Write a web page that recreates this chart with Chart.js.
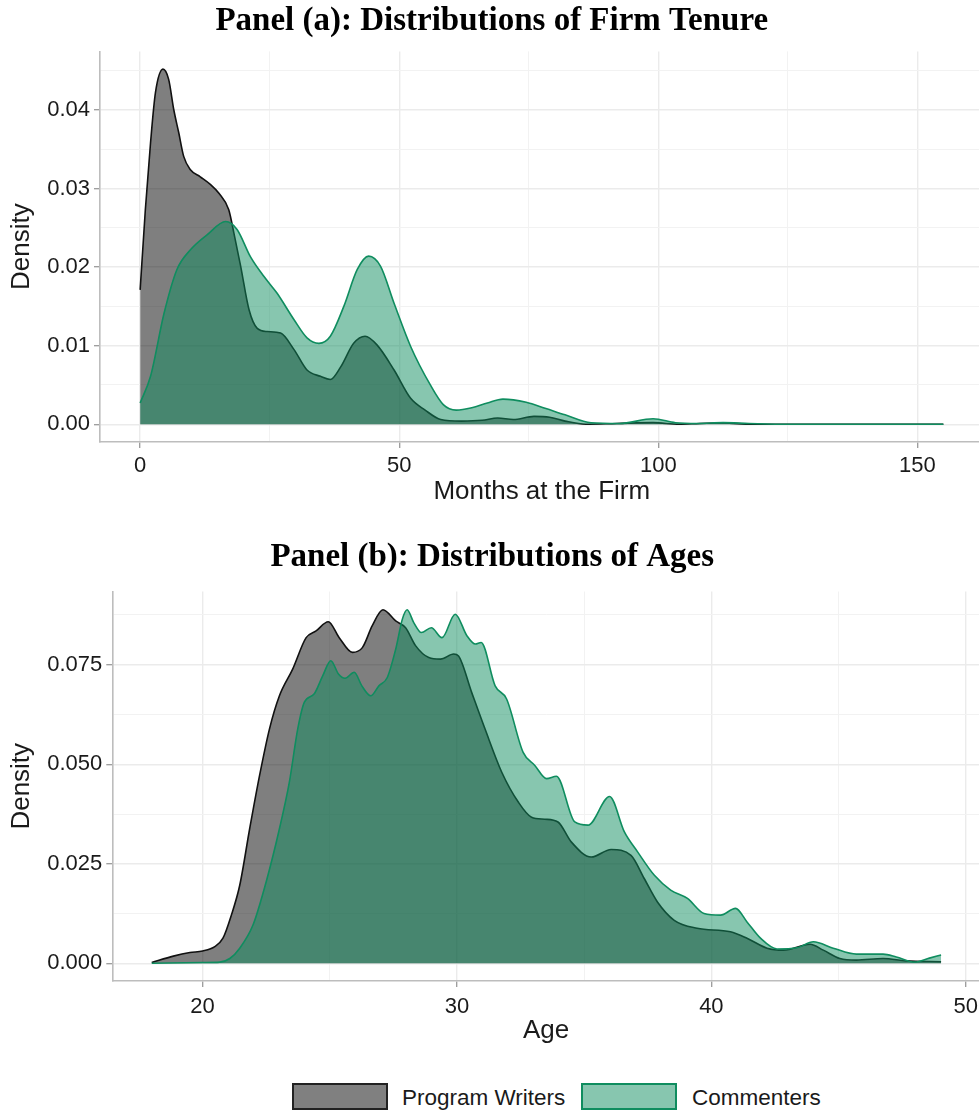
<!DOCTYPE html>
<html>
<head>
<meta charset="utf-8">
<script src="https://cdn.jsdelivr.net/npm/chart.js@4.4.1/dist/chart.umd.min.js"></script>
<style>
  html, body { margin:0; padding:0; background:#fff; width:979px; height:1113px; overflow:hidden; }
  #wrap { position:relative; width:979px; height:1113px; overflow:hidden; }
  canvas { position:absolute; left:0; }
  #ca { top:0; }
  #cb { top:530px; }
  #legend { position:absolute; top:1083px; left:0; width:979px; height:30px; font-family:"Liberation Sans", Arial, sans-serif; font-size:22.5px; color:#1a1a1a; }
  .box { position:absolute; top:0; width:96px; height:27px; box-sizing:border-box; border:2px solid; }
  .lbl { position:absolute; top:0; line-height:29px; }
</style>
</head>
<body>
<div id="wrap">
  <canvas id="ca" width="985" height="520"></canvas>
  <canvas id="cb" width="985" height="530"></canvas>
  <div id="legend">
    <div class="box" style="left:292px;background:#808080;border-color:#222;"></div>
    <div class="lbl" style="left:402px;">Program Writers</div>
    <div class="box" style="left:581px;background:rgba(15,141,95,0.5);border-color:#0f8d5f;"></div>
    <div class="lbl" style="left:692px;">Commenters</div>
  </div>
</div>
<script>
// ---------- Panel (a): Firm tenure (months) ----------
const tenureWritersX = [0, 1.0, 2.0, 2.95, 4.4, 5.5, 6.5, 7.45, 8.4, 9.7, 11.6, 13.6, 15.2, 17.1, 18.1, 19.4, 21.0, 22.6, 24.5, 27.1, 29.7, 32.2, 34.8, 36.7, 38.7, 41.2, 43.4, 45.7, 49.0, 52.2, 55.0, 58.0, 62.0, 66.0, 69.0, 72.0, 76.0, 79.0, 82.0, 86.0, 92.0, 99.0, 104.0, 108.0, 112.5, 118.0, 125.0, 140.0, 155.0];
const tenureWritersY = [0.0171, 0.0273, 0.0358, 0.0422, 0.0452, 0.0439, 0.0400, 0.0371, 0.0341, 0.0324, 0.0315, 0.0305, 0.0294, 0.0273, 0.0243, 0.0201, 0.0146, 0.0122, 0.0118, 0.0116, 0.0095, 0.0069, 0.0061, 0.0057, 0.0073, 0.0103, 0.0112, 0.0101, 0.0069, 0.0033, 0.0018, 0.0006, 0.0004, 0.0005, 0.0008, 0.0006, 0.0010, 0.0009, 0.0004, 0.0000, 0.0001, 0.0002, 0.0000, 0.0001, 0.00015, 0.0000, 0.0000, 0.0000, 0.0000];
const tenureCommentersX = [0, 2.0, 4.6, 7.1, 9.7, 12.9, 16.5, 18.7, 21.3, 23.9, 26.4, 29.7, 32.2, 34.5, 36.7, 39.3, 41.9, 44.1, 46.4, 49.0, 52.2, 56.0, 58.5, 61.0, 64.0, 67.0, 70.0, 74.5, 78.3, 82.0, 87.0, 92.5, 99.0, 103.3, 107.6, 112.5, 117.5, 125.0, 140.0, 155.0];
const tenureCommentersY = [0.0027, 0.0061, 0.0141, 0.0197, 0.0222, 0.0241, 0.0258, 0.0248, 0.0213, 0.0188, 0.0167, 0.0133, 0.0110, 0.0103, 0.0112, 0.0150, 0.0197, 0.0214, 0.0201, 0.0154, 0.0099, 0.0050, 0.0025, 0.0018, 0.0021, 0.0027, 0.0032, 0.0028, 0.0020, 0.0012, 0.0002, 0.0001, 0.0007, 0.0002, 0.0001, 0.0002, 0.0001, 0.0000, 0.0000, 0.0000];
const tenureTicks = [0, 50, 100, 150];
const tenureDensityTicks = [0, 0.01, 0.02, 0.03, 0.04];
const tenureDensityLabels = ["0.00", "0.01", "0.02", "0.03", "0.04"];

// ---------- Panel (b): Ages ----------
const ageWritersX = [18.0, 18.85, 19.5, 20.0, 20.48, 20.8, 21.13, 21.46, 21.85, 22.24, 22.63, 23.02, 23.54, 24.07, 24.46, 24.94, 25.37, 25.89, 26.28, 26.67, 27.09, 27.59, 27.98, 28.37, 28.89, 29.35, 29.87, 30.06, 30.58, 31.1, 31.76, 32.41, 32.93, 33.45, 33.97, 34.49, 35.28, 36.06, 36.84, 37.36, 37.88, 38.54, 39.44, 40.75, 41.4, 42.19, 42.84, 43.88, 44.4, 45.05, 45.7, 46.75, 47.66, 49.03];
const ageWritersY = [0.0002, 0.0018, 0.0027, 0.0031, 0.0042, 0.0063, 0.0121, 0.0196, 0.0338, 0.0472, 0.0589, 0.0672, 0.0739, 0.0818, 0.0835, 0.0858, 0.0818, 0.0781, 0.0793, 0.0848, 0.0888, 0.0860, 0.0843, 0.0798, 0.0768, 0.0764, 0.0777, 0.0772, 0.0680, 0.0589, 0.0480, 0.0405, 0.0367, 0.0362, 0.0355, 0.0305, 0.0267, 0.0286, 0.0271, 0.0213, 0.0154, 0.0108, 0.0088, 0.0079, 0.0063, 0.0038, 0.0033, 0.0048, 0.0033, 0.0012, 0.0008, 0.0012, 0.0006, 0.0004];
const ageCommentersX = [18.0, 20.0, 20.68, 21.07, 21.46, 21.98, 22.5, 23.02, 23.41, 23.74, 24.0, 24.39, 24.72, 25.04, 25.34, 25.6, 25.96, 26.26, 26.61, 26.93, 27.26, 27.59, 27.85, 28.04, 28.3, 28.6, 28.99, 29.41, 29.93, 30.39, 30.72, 30.95, 31.5, 31.95, 32.6, 33.06, 33.52, 33.91, 34.63, 35.15, 36.0, 36.58, 37.1, 37.76, 38.4, 39.06, 39.71, 40.36, 40.95, 41.4, 41.93, 42.58, 43.36, 44.01, 44.79, 45.7, 46.75, 47.27, 47.99, 48.57, 49.03];
const ageCommentersY = [0.0000, 0.0002, 0.0003, 0.0012, 0.0038, 0.0096, 0.0205, 0.0338, 0.0455, 0.0589, 0.0656, 0.0677, 0.0722, 0.0760, 0.0727, 0.0716, 0.0731, 0.0697, 0.0672, 0.0697, 0.0718, 0.0789, 0.0864, 0.0888, 0.0856, 0.0831, 0.0843, 0.0818, 0.0877, 0.0823, 0.0802, 0.0806, 0.0697, 0.0664, 0.0530, 0.0497, 0.0464, 0.0470, 0.0355, 0.0347, 0.0419, 0.0330, 0.0280, 0.0221, 0.0184, 0.0163, 0.0125, 0.0121, 0.0138, 0.0104, 0.0063, 0.0036, 0.0039, 0.0054, 0.0038, 0.0023, 0.0023, 0.0016, 0.0003, 0.0013, 0.0021];
const ageTicks = [20, 30, 40, 50];
const ageDensityTicks = [0, 0.025, 0.05, 0.075];
const ageDensityLabels = ["0.000", "0.025", "0.050", "0.075"];

const seriesNames = ["Program Writers", "Commenters"];

// ---------- helpers ----------
const SANS = '"Liberation Sans", Arial, Helvetica, sans-serif';
const SERIF = '"Liberation Serif", "Times New Roman", serif';
const toXY = (xs, ys) => xs.map((x, i) => ({x: x, y: ys[i]}));
function withMinor(major) {
  const out = [];
  const step = major[1] - major[0];
  for (let i = 0; i < major.length; i++) {
    out.push(major[i]);
    out.push(+(major[i] + step / 2).toFixed(6));
  }
  return out;
}
const near = (a, b) => Math.abs(a - b) < 1e-9;

function makeChart(canvasId, cfg) {
  const majorX = cfg.xTicks, majorY = cfg.yTicks;
  const allX = withMinor(majorX).filter(v => v <= cfg.xMax);
  const allY = withMinor(majorY).filter(v => v <= cfg.yMax);
  const isMajor = (arr, v) => arr.some(m => near(m, v));
  const gridCommon = (arr) => ({
    display: true,
    drawOnChartArea: true,
    drawTicks: true,
    tickLength: 6,
    color: (c) => (c.tick && isMajor(arr, c.tick.value)) ? '#ebebeb' : '#f2f2f2',
    lineWidth: (c) => (c.tick && isMajor(arr, c.tick.value)) ? 1.4 : 1,
    tickColor: (c) => (c.tick && isMajor(arr, c.tick.value)) ? '#9a9a9a' : 'rgba(0,0,0,0)',
    tickWidth: 1.3
  });
  return new Chart(document.getElementById(canvasId), {
    type: 'line',
    data: {
      datasets: [
        {
          label: seriesNames[0],
          data: toXY(cfg.wx, cfg.wy),
          borderColor: '#111111',
          backgroundColor: 'rgba(0,0,0,0.5)',
          borderWidth: 1.6,
          fill: 'origin',
          pointRadius: 0,
          cubicInterpolationMode: 'monotone',
          order: 2
        },
        {
          label: seriesNames[1],
          data: toXY(cfg.cx, cfg.cy),
          borderColor: '#0f8d5f',
          backgroundColor: 'rgba(15,141,95,0.5)',
          borderWidth: 1.6,
          fill: 'origin',
          pointRadius: 0,
          cubicInterpolationMode: 'monotone',
          order: 1
        }
      ]
    },
    options: {
      responsive: false,
      animation: false,
      devicePixelRatio: 1,
      layout: { padding: { left: 0, right: cfg.padRight, top: 0, bottom: 0 } },
      plugins: {
        legend: { display: false },
        tooltip: { enabled: false },
        title: {
          display: true,
          text: cfg.title,
          color: '#000',
          font: { family: SERIF, size: 33, weight: 'bold', lineHeight: 1.2 },
          padding: cfg.titlePad
        }
      },
      scales: {
        x: {
          type: 'linear',
          min: cfg.xMin, max: cfg.xMax,
          afterBuildTicks: (s) => { s.ticks = allX.map(v => ({value: v})); },
          afterFit: (s) => { s.height = cfg.xAxisH; },
          ticks: {
            autoSkip: false, maxRotation: 0,
            padding: cfg.xTickPad,
            color: '#1a1a1a',
            font: { family: SANS, size: 22 },
            callback: (v) => { const i = majorX.findIndex(m => near(m, v)); return i >= 0 ? String(majorX[i]) : ''; }
          },
          grid: gridCommon(majorX),
          border: { display: true, color: '#bdbdbd', width: 1.6 },
          title: {
            display: true, text: cfg.xTitle, color: '#1a1a1a',
            font: { family: SANS, size: 26, lineHeight: 1.2 },
            padding: { top: 0, bottom: cfg.xTitlePad }
          }
        },
        y: {
          type: 'linear',
          min: cfg.yMin, max: cfg.yMax,
          afterBuildTicks: (s) => { s.ticks = allY.map(v => ({value: v})); },
          afterFit: (s) => { s.width = cfg.yAxisW; },
          ticks: {
            autoSkip: false,
            padding: 4,
            color: '#1a1a1a',
            font: { family: SANS, size: 22 },
            callback: (v) => { const i = majorY.findIndex(m => near(m, v)); return i >= 0 ? cfg.yLabels[i] : ''; }
          },
          grid: gridCommon(majorY),
          border: { display: true, color: '#bdbdbd', width: 1.6 },
          title: {
            display: true, text: 'Density', color: '#1a1a1a',
            font: { family: SANS, size: 26, lineHeight: 1.2 },
            padding: { top: 6, bottom: 0 }
          }
        }
      }
    }
  });
}

makeChart('ca', {
  title: 'Panel (a): Distributions of Firm Tenure',
  titlePad: { top: 2, bottom: 9.8 },
  wx: tenureWritersX, wy: tenureWritersY, cx: tenureCommentersX, cy: tenureCommentersY,
  xTicks: tenureTicks, yTicks: tenureDensityTicks, yLabels: tenureDensityLabels,
  xMin: -7.75, xMax: 162.75, yMin: -0.00226, yMax: 0.04746,
  xAxisH: 78, yAxisW: 100, padRight: 1.5,
  xTickPad: 5, xTitle: 'Months at the Firm', xTitlePad: 13
});

makeChart('cb', {
  title: 'Panel (b): Distributions of Ages',
  titlePad: { top: 7.5, bottom: 14.4 },
  wx: ageWritersX, wy: ageWritersY, cx: ageCommentersX, cy: ageCommentersY,
  xTicks: ageTicks, yTicks: ageDensityTicks, yLabels: ageDensityLabels,
  xMin: 16.45, xMax: 50.55, yMin: -0.00445, yMax: 0.0934,
  xAxisH: 79, yAxisW: 112.3, padRight: 0.5,
  xTickPad: 7, xTitle: 'Age', xTitlePad: 14
});
</script>
</body>
</html>
